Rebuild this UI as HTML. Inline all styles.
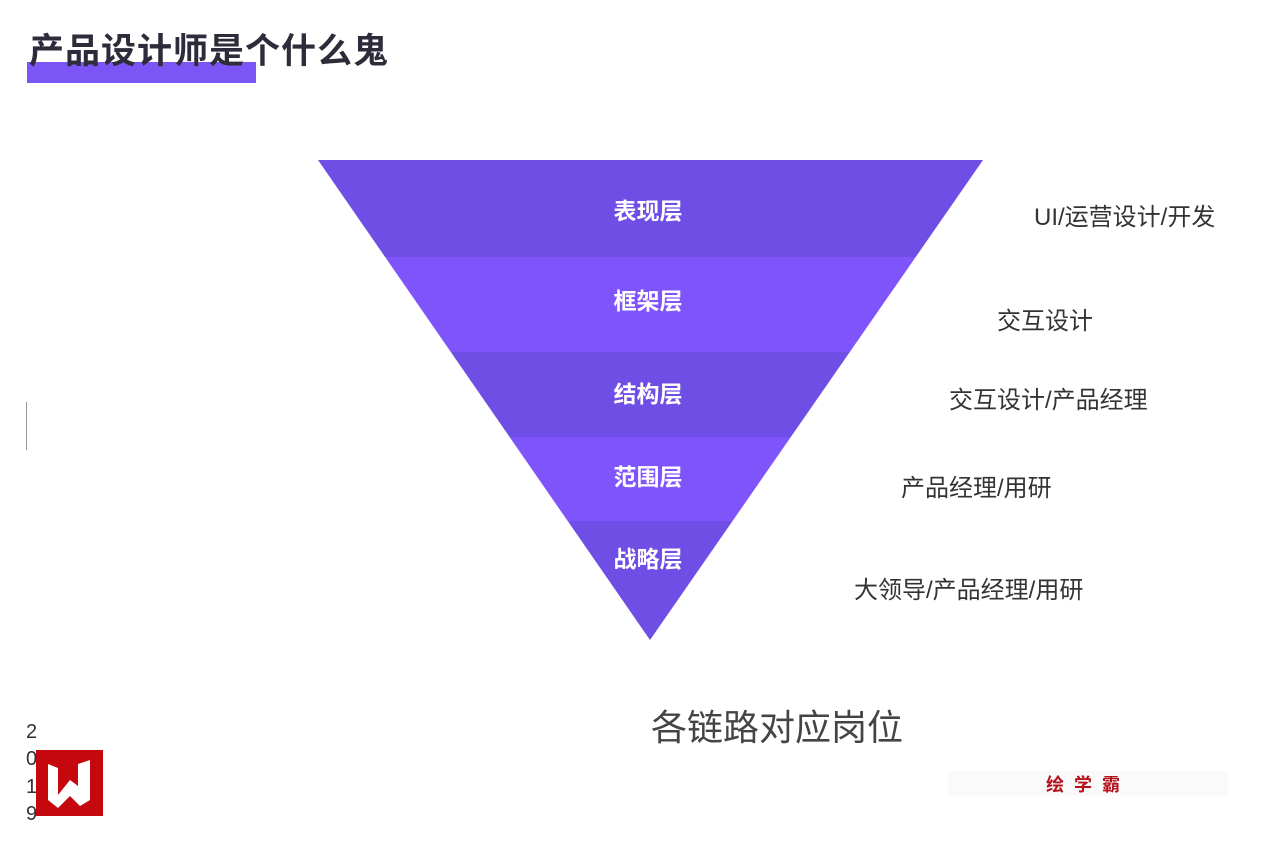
<!DOCTYPE html>
<html><head><meta charset="utf-8"><style>
body{margin:0;width:1266px;height:842px;background:#fff;position:relative;overflow:hidden;font-family:"Liberation Sans","Noto Sans CJK SC",sans-serif}
.t{position:absolute;white-space:nowrap}
</style></head><body>
<div class="t" style="left:27px;top:62px;width:229px;height:21px;background:#7b55f5"></div>
<div class="t" style="left:29px;top:29px;font-size:35px;font-weight:bold;color:#2e2c3a;line-height:46px;letter-spacing:1px">产品设计师是个什么鬼</div>
<div class="t" style="left:26px;top:402px;width:1px;height:48px;background:#999"></div>
<svg class="t" style="left:0;top:0" width="1266" height="842">
<defs><clipPath id="c"><polygon points="318,160 983,160 650,640"/></clipPath></defs>
<g clip-path="url(#c)">
<rect x="300" y="160" width="700" height="97" fill="#6f4ee6"/>
<rect x="300" y="257" width="700" height="95" fill="#7f55fb"/>
<rect x="300" y="352" width="700" height="85" fill="#6f4ee6"/>
<rect x="300" y="437" width="700" height="84" fill="#7f55fb"/>
<rect x="300" y="521" width="700" height="130" fill="#6f4ee6"/>
</g>
<g font-family="Liberation Sans,Noto Sans CJK SC,sans-serif" font-size="23" font-weight="bold" fill="#fff" text-anchor="middle">
<text x="648" y="219">表现层</text><text x="648" y="309">框架层</text><text x="648" y="402">结构层</text><text x="648" y="485">范围层</text><text x="648" y="567">战略层</text>
</g>
<g font-family="Liberation Sans,Noto Sans CJK SC,sans-serif" font-size="24" fill="#333">
<text x="1034" y="225">UI/运营设计/开发</text>
<text x="997" y="329">交互设计</text>
<text x="949" y="408">交互设计/产品经理</text>
<text x="901" y="496">产品经理/用研</text>
<text x="854" y="598">大领导/产品经理/用研</text>
</g>
<text x="651" y="740" font-family="Liberation Sans,Noto Sans CJK SC,sans-serif" font-size="36" fill="#444">各链路对应岗位</text>
<rect x="36" y="750" width="67" height="66" fill="#c4080e"/>
<path d="M48 764 L58 768 L58 795 L70 780 L78 786 L78 764 L90 760 L90 800 L80 806 L70 796 L58 808 L48 800Z" fill="#fff"/>
<g font-family="Liberation Sans,sans-serif" font-size="20" fill="#333">
<text x="26" y="738">2</text><text x="26" y="765">0</text><text x="26" y="793">1</text><text x="26" y="820">9</text>
</g>
<rect x="948" y="771" width="280" height="25" fill="#fafafa"/>
<text x="1046" y="791" font-family="Liberation Sans,Noto Sans CJK SC,sans-serif" font-size="18" font-weight="bold" fill="#b5121b" letter-spacing="10">绘学霸</text>
</svg>
</body></html>
